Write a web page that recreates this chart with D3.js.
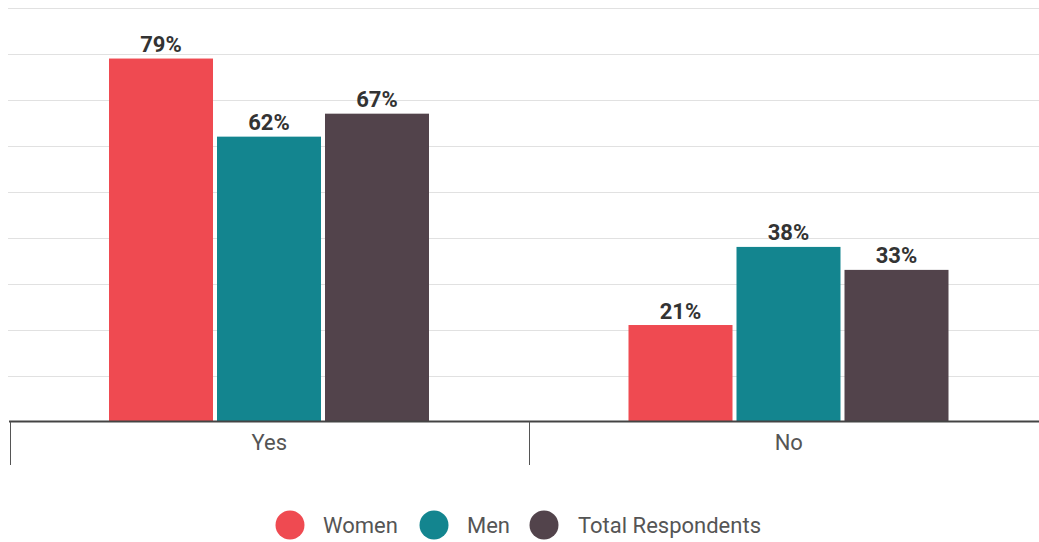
<!DOCTYPE html>
<html><head><meta charset="utf-8">
<script src="https://cdn.jsdelivr.net/npm/d3@7"></script>
<style>body{margin:0;background:#fff;}svg{display:block;font-family:Roboto, sans-serif;}</style>
</head><body>
<svg id="chart" width="1039" height="542"></svg>
<script>
const categories = ["Yes", "No"];
const seriesNames = ["Women", "Men", "Total Respondents"];
const women = [79, 21];
const men = [62, 38];
const total = [67, 33];
const yTicks = [0, 10, 20, 30, 40, 50, 60, 70, 80, 90];
const colors = ["#ef4a51", "#13858f", "#52434b"];

const seriesValues = [women, men, total];
const svg = d3.select("#chart");
const baseY = 421.5, topY = 8;
const x = d3.scaleBand().domain(categories).range([9.5, 1048.5]).padding(0);
const xi = d3.scaleBand().domain(seriesNames).range([99.5, 419.5]).paddingInner(0.037).paddingOuter(0);
const y = d3.scaleLinear().domain([0, 90]).range([baseY, topY]);

// gridlines
svg.append("g").selectAll("line").data(yTicks.filter(d => d > 0)).join("line")
  .attr("x1", 8).attr("x2", 1039)
  .attr("y1", d => Math.round(y(d)) + 0.5).attr("y2", d => Math.round(y(d)) + 0.5)
  .attr("stroke", "#e1e1e1").attr("stroke-width", 1);

// bars
const groups = svg.append("g").selectAll("g").data(categories).join("g")
  .attr("transform", d => `translate(${x(d)},0)`);
groups.each(function(cat, ci) {
  const g = d3.select(this);
  seriesNames.forEach((s, si) => {
    const v = seriesValues[si][ci];
    g.append("rect")
      .attr("x", xi(s)).attr("width", xi.bandwidth())
      .attr("y", y(v)).attr("height", baseY - y(v))
      .attr("fill", colors[si]);
    g.append("text")
      .attr("x", xi(s) + xi.bandwidth() / 2).attr("y", y(v) - 6.5)
      .attr("text-anchor", "middle").attr("font-size", 22).attr("font-weight", "bold")
      .attr("fill", "#333").text(v + "%");
  });
});

// x axis
const axis = d3.axisBottom(x).tickSize(0).tickPadding(0);
const ax = svg.append("g").attr("transform", `translate(0,${baseY})`).call(axis);
ax.select(".domain").remove();
ax.selectAll("text").attr("font-size", 22).attr("fill", "#555").attr("font-family", "Roboto, sans-serif")
  .attr("dy", null).attr("y", 28.5);
svg.append("line").attr("x1", 9).attr("x2", 1039).attr("y1", baseY).attr("y2", baseY)
  .attr("stroke", "#444").attr("stroke-width", 2);
// category separators
const seps = [x.range()[0], x(categories[1])];
svg.append("g").selectAll("line").data(seps).join("line")
  .attr("x1", d => Math.round(d) + 0.5).attr("x2", d => Math.round(d) + 0.5)
  .attr("y1", baseY).attr("y2", 465).attr("stroke", "#555").attr("stroke-width", 1);

// legend
const legendPos = [{cx: 290, tx: 323}, {cx: 434, tx: 467}, {cx: 544, tx: 578}];
const lg = svg.append("g");
seriesNames.forEach((s, i) => {
  lg.append("circle").attr("cx", legendPos[i].cx).attr("cy", 525).attr("r", 14.5).attr("fill", colors[i]);
  lg.append("text").attr("x", legendPos[i].tx).attr("y", 533).attr("font-size", 22)
    .attr("fill", "#555").text(s);
});
</script>
</body></html>
